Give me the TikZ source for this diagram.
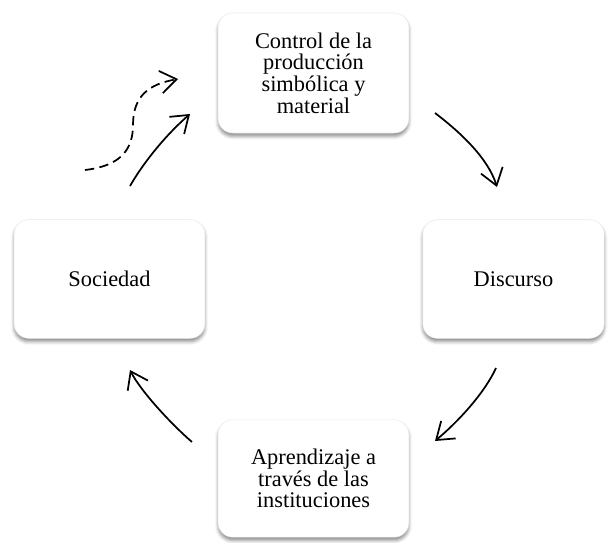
\documentclass[tikz,border=0pt]{standalone}
\usepackage{fontspec}
\setmainfont{Liberation Serif}
\usetikzlibrary{arrows.meta,shadows.blur}

\begin{document}
\begin{tikzpicture}[x=0.75pt,y=-0.75pt,
		box/.style={draw=black!8,fill=white,rounded corners=11pt,align=center,
			font=\fontsize{16.8}{16.3}\selectfont,
			minimum width=143pt,minimum height=89pt,
			blur shadow={shadow xshift=0pt,shadow yshift=-2.5pt,shadow blur radius=2.5pt,shadow opacity=45}},
		flow/.style={line width=1.3pt,-{Straight Barb[length=12pt,width=17pt,line width=1.3pt]}}]
		\useasboundingbox (0,0) rectangle (608,543);
		
		% Control
		\node[box,minimum height=90pt] (control) at (313.5,73) {Control de la\\producción\\simbólica y\\material};
		
		% Discurso
		\node[box,minimum width=136pt] (discurso) at (513.5,279) {Discurso};
		
		% Aprendizaje
		\node[box,minimum height=88pt] (aprendizaje) at (313.5,478.5) {Aprendizaje a\\través de las\\instituciones};
		
		% Sociedad
		\node[box] (sociedad) at (109.5,279) {Sociedad};
		
		% Arrow ends
		\coordinate (c1) at (435,113);
		\coordinate (d1) at (497,187);
		\coordinate (d2) at (496,368);
		\coordinate (a1) at (435,441);
		\coordinate (a2) at (192,442);
		\coordinate (s1) at (130,370);
		\coordinate (s2) at (130,186);
		\coordinate (c2) at (190,114);
		\coordinate (dash1) at (85,170);
		\coordinate (dash2) at (178,79);
		
		% Control to Discurso
		\draw[flow] (c1) .. controls (460,132) and (488,158) .. (d1);
		
		% Discurso to Aprendizaje
		\draw[flow] (d2) .. controls (485,392) and (460,420) .. (a1);
		
		% Aprendizaje to Sociedad
		\draw[flow] (a2) .. controls (170,423) and (140,390) .. (s1);
		
		% Sociedad to Control
		\draw[flow] (s2) .. controls (145,160) and (168,133) .. (c2);
		
		% Dashed arrow
		\draw[flow,dash pattern=on 7pt off 4pt] (dash1) .. controls (120,166) and (133,150) .. (133,125) .. controls (133,95) and (150,84) .. (dash2);
	\end{tikzpicture}
\end{document}
